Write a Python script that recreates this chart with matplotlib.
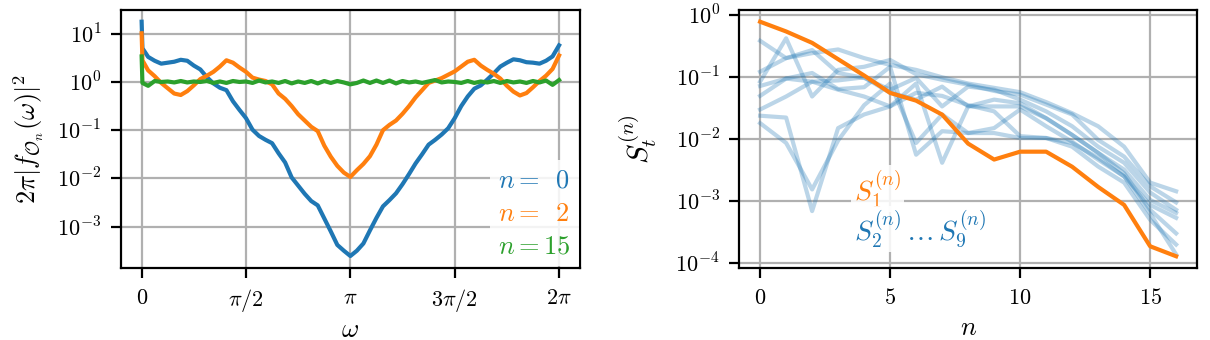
import numpy as np
import matplotlib
matplotlib.use("Agg")
import matplotlib.pyplot as plt
from matplotlib.ticker import FixedLocator, FuncFormatter, NullLocator

plt.rcParams['mathtext.fontset'] = 'cm'
plt.rcParams['font.family'] = ['DejaVu Serif']
plt.rcParams['font.size'] = 8

# ---------------- data: left panel ----------------
# omega samples: DC point, point just after DC, then k*pi/32, k=1..64
omega = np.concatenate([[0.0, 0.012], np.arange(1, 65) * np.pi / 32])

# log10 of 2*pi*|f_On(omega)|^2
blue_n0_log = [1.25, 0.70,
               0.52, 0.44, 0.38, 0.40, 0.42, 0.46, 0.44, 0.34, 0.26, 0.10,
               -0.03, -0.12, -0.17, -0.40, -0.58, -0.75, -0.99, -1.12, -1.20, -1.27,
               -1.48, -1.67, -1.98, -2.15, -2.32, -2.47, -2.56, -2.83, -3.10, -3.38,
               -3.50, -3.61,
               -3.50, -3.35, -3.08, -2.82, -2.58, -2.45, -2.31, -2.12, -1.91, -1.69,
               -1.50, -1.30, -1.20, -1.09, -0.96, -0.75, -0.50, -0.30, -0.14, -0.07,
               0.05, 0.18, 0.32, 0.40, 0.47, 0.45, 0.41, 0.40, 0.38, 0.44,
               0.53, 0.76]
orange_n2_log = [1.01, 0.45,
                 0.24, 0.12, -0.02, -0.13, -0.24, -0.27, -0.19, -0.07, 0.06, 0.13,
                 0.21, 0.32, 0.45, 0.40, 0.30, 0.21, 0.09, 0.05, 0.02, -0.05,
                 -0.24, -0.35, -0.50, -0.67, -0.80, -0.93, -1.02, -1.32, -1.55, -1.74,
                 -1.88, -1.97,
                 -1.83, -1.70, -1.54, -1.30, -1.00, -0.89, -0.80, -0.66, -0.50, -0.32,
                 -0.17, -0.02, 0.03, 0.08, 0.15, 0.22, 0.32, 0.42, 0.46, 0.34,
                 0.25, 0.17, 0.07, -0.08, -0.20, -0.28, -0.23, -0.11, 0.02, 0.13,
                 0.27, 0.55]
green_n15_log = [0.53, -0.02,
                 -0.08, 0.02, 0.00, 0.01, -0.01, 0.02, -0.01, 0.01, 0.00, 0.02,
                 -0.02, 0.01, -0.02, 0.02, 0.00, 0.01, -0.02, 0.03, -0.01, 0.01,
                 -0.02, 0.02, -0.03, 0.01, -0.02, 0.02, -0.03, 0.02, -0.02, 0.02,
                 -0.01, -0.05,
                 -0.02, 0.03, -0.02, 0.03, -0.02, 0.03, -0.03, 0.02, -0.01, 0.01,
                 -0.02, 0.01, 0.04, -0.01, 0.01, 0.00, -0.02, 0.02, -0.02, 0.01,
                 -0.01, 0.02, -0.02, 0.02, -0.01, 0.01, -0.02, 0.02, -0.01, 0.03,
                 -0.06, 0.04]
left_labels = [r'$n = \enspace0$', r'$n = \enspace2$', r'$n = 15$']
left_xticks = [0, np.pi / 2, np.pi, 3 * np.pi / 2, 2 * np.pi]
left_xticklabels = [r'$0$', r'$\pi/2$', r'$\pi$', r'$3\pi/2$', r'$2\pi$']

# ---------------- data: right panel ----------------
n_vals = np.arange(17)
S1 = [0.79, 0.55, 0.36, 0.196, 0.107, 0.056, 0.042, 0.025, 0.0085, 0.0047,
      0.0063, 0.0063, 0.0036, 0.0017, 0.00087, 0.000187, 0.000129]
# log10 of S_2 ... S_9
S2_log = [-0.41, -0.69, -0.61, -0.55, -0.69, -0.80, -0.88, -1.00, -1.10, -1.17, -1.24, -1.40, -1.58, -1.79, -2.12, -2.70, -2.84]
S3_log = [-1.07, -0.37, -1.31, -0.88, -0.83, -0.72, -0.95, -1.04, -1.12, -1.22, -1.28, -1.44, -1.60, -2.01, -2.28, -2.76, -3.02]
S4_log = [-0.91, -0.69, -0.56, -0.93, -1.01, -1.20, -1.01, -1.47, -1.15, -1.20, -1.36, -1.55, -1.79, -2.12, -2.38, -2.86, -3.14]
S5_log = [-1.14, -1.02, -1.07, -1.05, -1.00, -1.25, -1.36, -1.15, -1.47, -1.36, -1.42, -1.66, -1.93, -2.22, -2.49, -2.98, -3.19]
S6_log = [-1.30, -1.02, -0.93, -1.19, -1.16, -0.83, -2.25, -1.87, -1.90, -1.82, -1.52, -1.79, -2.04, -2.33, -2.60, -3.06, -3.27]
S7_log = [-1.52, -1.31, -1.07, -1.20, -1.31, -1.47, -1.10, -2.38, -1.47, -1.47, -1.47, -1.66, -1.93, -2.22, -2.55, -3.14, -3.52]
S8_log = [-1.62, -1.65, -3.16, -1.82, -1.60, -1.47, -1.25, -1.30, -1.45, -1.55, -1.95, -1.98, -2.12, -2.44, -2.70, -3.30, -3.70]
S9_log = [-1.74, -2.06, -2.81, -2.02, -1.45, -1.10, -2.06, -1.60, -1.90, -1.90, -1.98, -1.98, -2.06, -2.30, -2.60, -3.20, -3.86]
S_rest_log = [S2_log, S3_log, S4_log, S5_log, S6_log, S7_log, S8_log, S9_log]
right_xticks = [0, 5, 10, 15]
yticks_left = [1e1, 1e0, 1e-1, 1e-2, 1e-3]
yticks_right = [1e0, 1e-1, 1e-2, 1e-3, 1e-4]

# ---------------- figure ----------------
fig = plt.figure(figsize=(6.05, 1.7), dpi=200)
axL = fig.add_axes([0.0998, 0.2126, 0.3795, 0.758])
axR = fig.add_axes([0.611, 0.2118, 0.3782, 0.7588])

GRID = dict(color='#b0b0b0', linewidth=0.8)
LABEL_FS = 9.5

def logfmt(v, pos):
    e = int(round(np.log10(v)))
    return r'$10^{%d}$' % e

# left panel
cols = ['C0', 'C1', 'C2']
handles = []
for vals, c, lab in zip([blue_n0_log, orange_n2_log, green_n15_log], cols, left_labels):
    h, = axL.plot(omega, 10.0 ** np.asarray(vals), color=c, lw=1.5, label=lab)
    handles.append(h)
axL.set_yscale('log')
axL.grid(True, **GRID)
axL.set_axisbelow(True)
axL.xaxis.set_major_locator(FixedLocator(left_xticks))
axL.set_xticklabels(left_xticklabels)
axL.yaxis.set_major_locator(FixedLocator(yticks_left))
axL.yaxis.set_major_formatter(FuncFormatter(logfmt))
axL.yaxis.set_minor_locator(NullLocator())
axL.set_xlabel(r'$\omega$', fontsize=LABEL_FS, labelpad=1)
axL.set_ylabel(r'$2\pi|f_{\mathcal{O}_n}(\omega)|^2$', fontsize=LABEL_FS, labelpad=4)
leg = axL.legend(handles=handles, loc='lower right', handlelength=0, handletextpad=0,
                 labelcolor='linecolor', framealpha=0.85, edgecolor='none',
                 fancybox=False, borderaxespad=0.05, fontsize=9.5, labelspacing=0.3,
                 borderpad=0.3)
for h in leg.legend_handles:
    h.set_visible(False)

# right panel
for vals in S_rest_log:
    axR.plot(n_vals, 10.0 ** np.asarray(vals), color='C0', alpha=0.3, lw=1.5)
axR.plot(n_vals, S1, color='C1', lw=1.5)
axR.set_yscale('log')
axR.grid(True, **GRID)
axR.set_axisbelow(True)
axR.xaxis.set_major_locator(FixedLocator(right_xticks))
axR.xaxis.set_major_formatter(FuncFormatter(lambda v, p: r'$%d$' % v))
axR.yaxis.set_major_locator(FixedLocator(yticks_right))
axR.yaxis.set_major_formatter(FuncFormatter(logfmt))
axR.yaxis.set_minor_locator(NullLocator())
axR.set_xlabel(r'$n$', fontsize=LABEL_FS, labelpad=2)
axR.set_ylabel(r'$S_t^{(n)}$', fontsize=LABEL_FS + 1, labelpad=6)
bb = dict(facecolor='white', alpha=0.85, edgecolor='none', pad=1.0)
axR.text(3.6, 10 ** -2.8, r'$S_1^{(n)}$', color='C1', ha='left', va='center',
         bbox=bb, fontsize=10)
axR.text(3.6, 10 ** -3.45, r'$S_2^{(n)}\,\ldots\,S_9^{(n)}$', color='C0', ha='left',
         va='center', bbox=bb, fontsize=10)

for ax in (axL, axR):
    for s in ax.spines.values():
        s.set_linewidth(0.8)
    ax.tick_params(length=3.5, width=0.8)

fig.savefig('out.png', dpi=200)
